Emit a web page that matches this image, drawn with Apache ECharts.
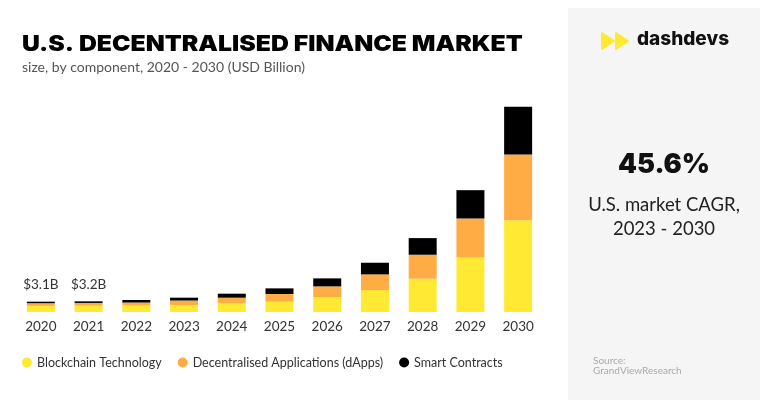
<!DOCTYPE html>
<html><head><meta charset="utf-8">
<script src="https://cdn.jsdelivr.net/npm/echarts@6/dist/echarts.min.js"></script>
<style>html,body{margin:0;padding:0;background:#fff}#c{width:775px;height:408px}</style>
</head><body><div id="c"></div>
<script>
const years = ['2020','2021','2022','2023','2024','2025','2026','2027','2028','2029','2030'];
const blockchain = [1.85, 1.9, 1.95, 2.1, 2.7, 3.1, 4.5, 6.6, 10.0, 16.4, 27.6];
const dapps = [0.8, 0.82, 0.9, 1.35, 1.6, 2.3, 3.2, 4.7, 7.2, 11.7, 19.7];
const smart = [0.45, 0.48, 0.75, 0.85, 1.2, 1.7, 2.4, 3.5, 5.0, 8.5, 14.4];
const labeledYears = ['2020', '2021'];
const cagrValue = '45.6%';

const FONT = 'Lato';
const chart = echarts.init(document.getElementById('c'), null, {renderer: 'canvas'});
chart.setOption({
  backgroundColor: '#fff',
  animation: false,
  textStyle: {fontFamily: FONT},
  grid: {left: 17, right: 233, top: 79, bottom: 96},
  xAxis: {
    type: 'category', data: years,
    axisLine: {show: false}, axisTick: {show: false},
    axisLabel: {color: '#333', fontSize: 13.5, margin: 8, fontFamily: FONT}
  },
  yAxis: {type: 'value', min: 0, max: 70, show: false, splitLine: {show: false}},
  legend: {
    left: 17, top: 351, icon: 'circle', itemWidth: 10, itemHeight: 10, itemGap: 16,
    textStyle: {color: '#333', fontSize: 12.5, fontFamily: FONT},
    data: ['Blockchain Technology', 'Decentralised Applications (dApps)', 'Smart Contracts']
  },
  series: [
    {name: 'Blockchain Technology', type: 'bar', stack: 't', barWidth: 28, data: blockchain, itemStyle: {color: '#FFE933'}},
    {name: 'Decentralised Applications (dApps)', type: 'bar', stack: 't', barWidth: 28, data: dapps, itemStyle: {color: '#FFAC45'}},
    {name: 'Smart Contracts', type: 'bar', stack: 't', barWidth: 28, data: smart, itemStyle: {color: '#000'},
      label: {show: true, position: 'top', distance: 10, color: '#333', fontSize: 13.5, fontFamily: FONT,
        formatter: p => {
          if (labeledYears.indexOf(p.name) < 0) return '';
          const i = p.dataIndex;
          const t = blockchain[i] + dapps[i] + smart[i];
          return '$' + t.toFixed(1) + 'B';
        }}}
  ],
  graphic: [
    {type: 'rect', shape: {x: 568, y: 8, width: 192, height: 392}, style: {fill: '#f5f5f5'}, z: -1},
    {type: 'text', x: 22, y: 45, scaleX: 1.152, style: {text: 'U.S. DECENTRALISED FINANCE MARKET', fill: '#000', font: '900 21.5px Inter', verticalAlign: 'middle'}},
    {type: 'text', left: 22, top: 60, style: {text: 'size, by component, 2020 - 2030 (USD Billion)', fill: '#555', font: '14px ' + FONT}},
    {type: 'polygon', shape: {points: [[602, 33], [602, 49], [614, 41]]}, style: {fill: '#FFE933', lineJoin: 'round', stroke: '#FFE933', lineWidth: 2}},
    {type: 'polygon', shape: {points: [[616, 33], [616, 49], [628, 41]]}, style: {fill: '#FFE933', lineJoin: 'round', stroke: '#FFE933', lineWidth: 2}},
    {type: 'text', left: 637, top: 30, style: {text: 'dashdevs', fill: '#111', font: '800 19px Inter'}},
    {type: 'text', x: 664, y: 165, style: {text: cagrValue, fill: '#111', font: '900 27px Inter', align: 'center', verticalAlign: 'middle'}},
    {type: 'text', x: 664, y: 205, style: {text: 'U.S. market CAGR,', fill: '#222', font: '18.5px ' + FONT, align: 'center', verticalAlign: 'middle'}},
    {type: 'text', x: 664, y: 229, style: {text: '2023 - 2030', fill: '#222', font: '18.5px ' + FONT, align: 'center', verticalAlign: 'middle'}},
    {type: 'text', left: 593, top: 356, style: {text: 'Source:\nGrandViewResearch', fill: '#aaa', font: '10px ' + FONT, lineHeight: 10}}
  ]
});
</script></body></html>
